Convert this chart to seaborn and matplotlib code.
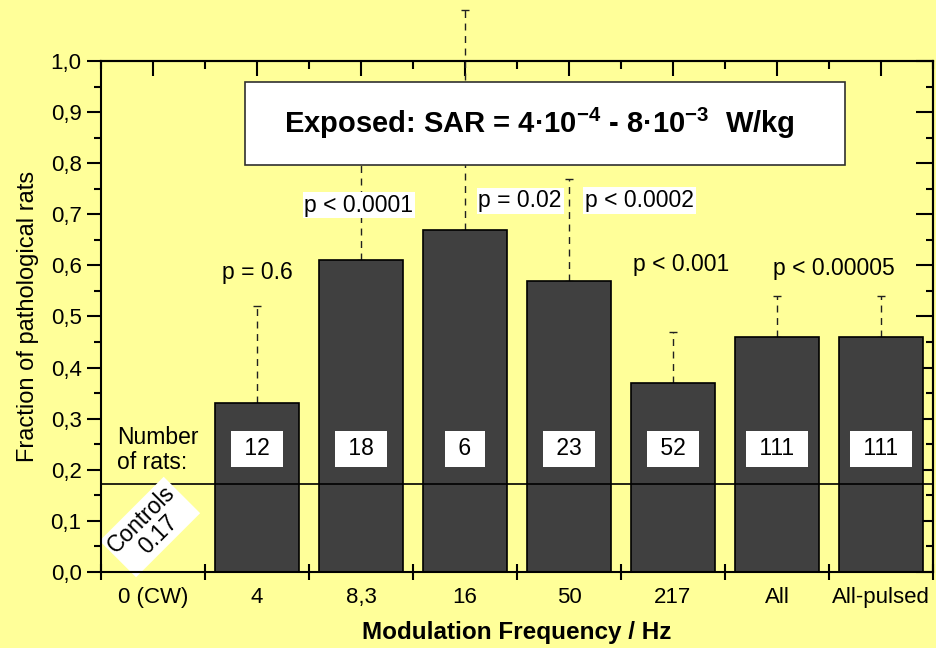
import numpy as np
import pandas as pd
import matplotlib
matplotlib.use("Agg")
import matplotlib.pyplot as plt
import seaborn as sns
from matplotlib.patches import Rectangle
from matplotlib.ticker import FuncFormatter, MultipleLocator

# ---------------- data ----------------
all_categories = ["0 (CW)", "4", "8,3", "16", "50", "217", "All", "All-pulsed"]
bar_categories = ["4", "8,3", "16", "50", "217", "All", "All-pulsed"]
bar_values = [0.33, 0.61, 0.67, 0.57, 0.37, 0.46, 0.46]
error_upper = [0.52, 0.86, 1.10, 0.77, 0.47, 0.54, 0.54]
rat_counts = ["12", "18", "6", "23", "52", "111", "111"]
p_labels = ["p = 0.6", "p < 0.0001", "p = 0.02", "p < 0.0002", "p < 0.001", "p < 0.00005"]
p_label_x = [1.0, 1.98, 3.53, 4.68, 5.08, 6.55]
p_label_y = [0.587, 0.718, 0.726, 0.727, 0.601, 0.593]
p_label_bg = [False, True, True, True, False, False]
control_level = 0.172
y_ticks = [0.0, 0.1, 0.2, 0.3, 0.4, 0.5, 0.6, 0.7, 0.8, 0.9, 1.0]

BG = "#FFFF99"
BAR = "#404040"
ANN = 16.5

plt.rcParams["font.family"] = ["Liberation Sans", "DejaVu Sans"]
plt.rcParams["mathtext.fontset"] = "custom"
plt.rcParams["mathtext.rm"] = "Liberation Sans"
plt.rcParams["mathtext.bf"] = "Liberation Sans:bold"

fig = plt.figure(figsize=(9.37, 6.48), dpi=100, facecolor=BG)
ax = fig.add_axes([0.1078, 0.1173, 0.8879, 0.7886])
ax.set_facecolor(BG)

df = pd.DataFrame({"freq": bar_categories, "frac": bar_values})
sns.barplot(data=df, x="freq", y="frac", order=all_categories, color=BAR,
            saturation=1, edgecolor="black", linewidth=1.2, width=0.8,
            errorbar=None, ax=ax, zorder=2)

# error bars (upper only, dashed)
xpos = [all_categories.index(c) for c in bar_categories]
yerr = np.array([[0.0] * len(bar_values),
                 [u - v for u, v in zip(error_upper, bar_values)]])
eb = ax.errorbar(xpos, bar_values, yerr=yerr, fmt="none", ecolor="#202020",
                 elinewidth=1.0, capsize=3, capthick=1.0, zorder=1.5)
for lc in eb[2]:
    lc.set_linestyle((0, (5, 4)))
    lc.set_clip_on(False)
for cl in eb[1]:
    cl.set_clip_on(False)

# control line
ax.axhline(control_level, color="black", lw=1.2, zorder=3)

# number of rats boxes
for x, n in zip(xpos, rat_counts):
    ax.text(x, 0.2407, " " + n + " ", ha="center", va="center", fontsize=ANN,
            zorder=6, bbox=dict(boxstyle="square,pad=0.3", fc="white", ec="none"))
ax.text(-0.346, 0.239, "Number\nof rats:", ha="left", va="center",
        fontsize=ANN, zorder=6, linespacing=1.15)

# controls label
ax.text(-0.03, 0.088, "Controls\n0.17", ha="center", va="center", rotation=45,
        fontsize=ANN, zorder=6, linespacing=1.0,
        bbox=dict(boxstyle="square,pad=0.12", fc="white", ec="none"))

# p labels
for t, x, y, bg in zip(p_labels, p_label_x, p_label_y, p_label_bg):
    kw = {}
    if bg:
        kw["bbox"] = dict(boxstyle="square,pad=0.08", fc="white", ec="none")
    ax.text(x, y, t, ha="center", va="center", fontsize=ANN, zorder=6, **kw)

# title box
ax.add_patch(Rectangle((0.885, 0.796), 5.77, 0.163, facecolor="white",
                       edgecolor="#303030", lw=1.2, zorder=5))
ax.text(3.72, 0.877,
        r"Exposed: SAR = 4·10$^{\mathbf{-4}}$ - 8·10$^{\mathbf{-3}}$  W/kg",
        ha="center", va="center", fontsize=21, fontweight="bold", zorder=6)

# axes limits / ticks
ax.set_xlim(-0.5, 7.5)
ax.set_ylim(0, 1.0)
ax.set_xticks(range(len(all_categories)))
ax.set_xticklabels(all_categories)
ax.set_xticks(np.arange(-0.5, 8.0, 1.0), minor=True)
ax.tick_params(axis="x", which="major", length=0, pad=11, labelsize=16)
ax.tick_params(axis="x", which="minor", direction="inout", length=11, width=1.5)
ax.set_yticks(y_ticks)
ax.yaxis.set_major_formatter(FuncFormatter(lambda v, p: f"{v:.1f}".replace(".", ",")))
ax.yaxis.set_minor_locator(MultipleLocator(0.05))
ax.tick_params(axis="y", which="major", direction="out", length=10, width=1.5,
               pad=4, labelsize=16)
ax.tick_params(axis="y", which="minor", direction="out", length=5, width=1.5)
for s in ax.spines.values():
    s.set_linewidth(1.5)
    s.set_zorder(7)

top = ax.secondary_xaxis("top")
top.set_xticks(range(len(all_categories)))
top.set_xticks(np.arange(-0.5, 8.0, 1.0), minor=True)
top.tick_params(which="major", direction="in", length=11, width=1.5, labeltop=False)
top.tick_params(which="minor", direction="in", length=6, width=1.5)
top.spines["top"].set_linewidth(1.5)

right = ax.secondary_yaxis("right")
right.set_yticks(y_ticks)
right.yaxis.set_minor_locator(MultipleLocator(0.05))
right.tick_params(which="major", direction="in", length=12, width=1.5, labelright=False)
right.tick_params(which="minor", direction="in", length=5, width=1.5)
right.spines["right"].set_linewidth(1.5)

ax.set_xlabel("Modulation Frequency / Hz", fontsize=17.5, fontweight="bold", labelpad=9)
ax.set_ylabel("Fraction of pathological rats", fontsize=17, labelpad=8)

fig.savefig("out.png", dpi=100, facecolor=BG)
